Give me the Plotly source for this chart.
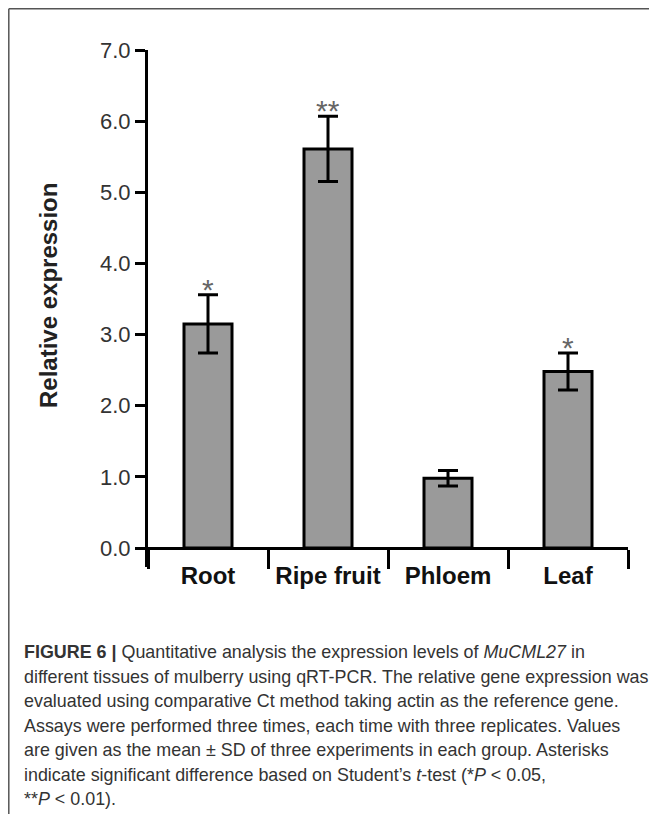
"""Relative expression of MuCML27 across mulberry tissues (bar + SD error bars)."""

import plotly.graph_objects as go

tissues = ["Root", "Ripe fruit", "Phloem", "Leaf"]
expression = [3.15, 5.61, 0.98, 2.48]
sd = [0.41, 0.46, 0.11, 0.26]
signif = ["*", "**", "", "*"]
y_ticks = [0, 1, 2, 3, 4, 5, 6, 7]

caption_lines = [
    "<b>FIGURE 6 |</b> Quantitative analysis the expression levels of <i>MuCML27</i> in",
    "different tissues of mulberry using qRT-PCR. The relative gene expression was",
    "evaluated using comparative Ct method taking actin as the reference gene.",
    "Assays were performed three times, each time with three replicates. Values",
    "are given as the mean \u00b1 SD of three experiments in each group. Asterisks",
    "indicate significant difference based on Student\u2019s <i>t</i>-test (*<i>P</i> < 0.05,",
    "**<i>P</i> < 0.01).",
]

# the page body has an 8px margin, so the figure is 8px smaller than the window
W, H = 649, 806
L, R, T, B = 140, 29, 42, 247
y_min = -0.267
FONT = "Liberation Sans, Arial, sans-serif"


def px_x(px):
    return (px - L) / (W - L - R)


def px_y(py):
    return (H - B - py) / (H - T - B)


fig = go.Figure(
    go.Bar(
        x=tissues,
        y=expression,
        marker=dict(color="#9a9a9a", line=dict(color="black", width=3)),
        error_y=dict(type="data", array=sd, color="black", thickness=3, width=10),
        hovertemplate="%{x}<br>%{y:.2f}<extra></extra>",
    )
)

for name, val, err, star in zip(tissues, expression, sd, signif):
    if star:
        fig.add_annotation(
            x=name, y=val + err, text=star, showarrow=False, xanchor="center", yanchor="bottom",
            yshift=-13, font=dict(family=FONT, size=30, color="#666"),
        )

# y-axis title
fig.add_annotation(
    xref="paper", yref="paper", x=px_x(40), y=px_y(288), xanchor="center", yanchor="middle",
    text="<b>Relative expression</b>", textangle=-90, showarrow=False,
    font=dict(family=FONT, size=24, color="#222"),
)

# caption, one annotation per line to keep the line spacing
for i, line in enumerate(caption_lines):
    fig.add_annotation(
        xref="paper", yref="paper", x=px_x(14), y=px_y(644 + 24.5 * i), xanchor="left", yanchor="middle",
        align="left", text=line, showarrow=False,
        font=dict(family=FONT, size=17.9, color="#333"),
    )

# panel frame (left and top edges)
frame = dict(color="#555", width=1.5)
fig.add_shape(type="line", xref="paper", yref="paper", x0=px_x(0.8), x1=px_x(0.8), y0=px_y(0.8), y1=px_y(820), line=frame)
fig.add_shape(type="line", xref="paper", yref="paper", x0=px_x(0.8), x1=px_x(670), y0=px_y(0.8), y1=px_y(0.8), line=frame)

fig.update_layout(
    template="plotly_white",
    width=W, height=H,
    margin=dict(l=L, r=R, t=T, b=B),
    bargap=0.6,
    showlegend=False,
    plot_bgcolor="white",
    xaxis=dict(
        type="category", range=[-0.5, 3.5], anchor="free", position=-y_min / (7 - y_min),
        showline=True, linecolor="black", linewidth=3, showgrid=False,
        ticks="outside", tickson="boundaries", ticklen=19, tickwidth=3, tickcolor="black",
        ticklabelstandoff=5,
        tickfont=dict(family=FONT, size=24, color="#111", weight="bold"),
    ),
    yaxis=dict(
        range=[y_min, 7], tickvals=y_ticks, tickformat=".1f",
        showline=True, linecolor="black", linewidth=3, showgrid=False, zeroline=False,
        ticks="outside", ticklen=10, tickwidth=3, tickcolor="black",
        tickfont=dict(family=FONT, size=22, color="#333"),
    ),
)

fig.write_html("out.html")
